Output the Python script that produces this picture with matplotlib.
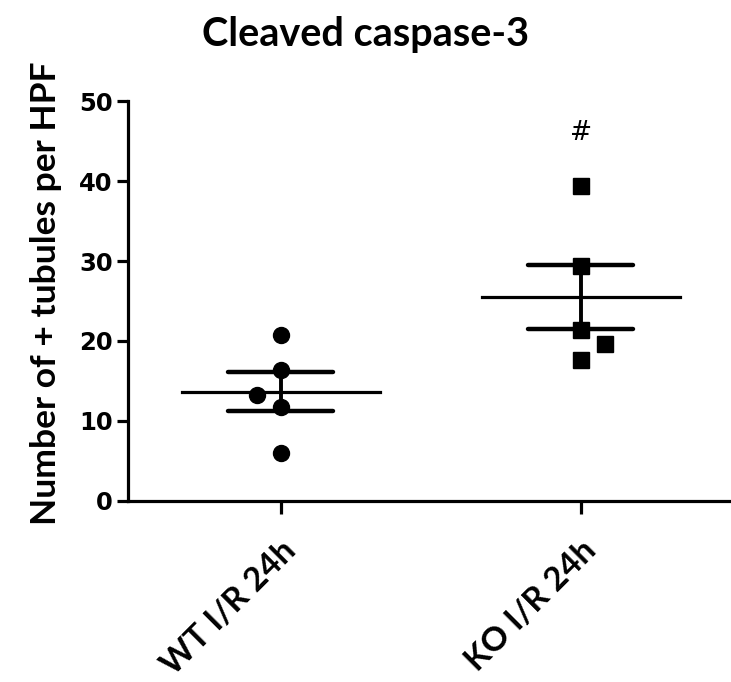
import numpy as np
import matplotlib.pyplot as plt

groups = ["WT I/R 24h", "KO I/R 24h"]
wt = [20.7, 16.4, 13.3, 11.8, 6.0]
ko = [39.4, 29.4, 21.4, 19.6, 17.6]
# small horizontal jitter (in category units)
wt_dx = [0, 0, -0.08, 0, 0]
ko_dx = [0, 0, 0, 0.08, 0]
markers = ["o", "s"]

fig = plt.figure(figsize=(7.31, 6.82), dpi=100)
ax = fig.add_axes([0.1751, 0.2654, 0.8249, 0.5865])

for i, (vals, dx, m) in enumerate(zip([wt, ko], [wt_dx, ko_dx], markers)):
    xpos = i + 1
    v = np.array(vals)
    mean = v.mean()
    sem = v.std(ddof=1) / np.sqrt(len(v))
    ms = 11.5 if m == "o" else 12
    ax.plot(xpos + np.array(dx), v, m, color="black", ms=ms, zorder=3)
    ax.plot([xpos - 0.33, xpos + 0.33], [mean, mean], color="black", lw=2.3)
    ax.plot([xpos - 0.175, xpos + 0.175], [mean + sem] * 2, color="black", lw=3.2,
            solid_capstyle="round")
    ax.plot([xpos - 0.175, xpos + 0.175], [mean - sem] * 2, color="black", lw=3.2,
            solid_capstyle="round")
    ax.plot([xpos, xpos], [mean - sem, mean + sem], color="black", lw=2.8)

ax.text(2, 46, "#", ha="center", va="center", fontsize=19)

ax.set_xlim(0.49, 2.5)
ax.set_ylim(0, 50)
ax.set_yticks([0, 10, 20, 30, 40, 50])
ax.set_xticks([1, 2])
ax.set_xticklabels(groups, rotation=45, ha="right", rotation_mode="anchor",
                   fontsize=24, fontweight="bold", family="Lato")
for lab in ax.get_yticklabels():
    lab.set_fontsize(17.5)
    lab.set_fontweight("bold")
    lab.set_family("DejaVu Sans")

ax.spines["top"].set_visible(False)
ax.spines["right"].set_visible(False)
ax.spines["left"].set_linewidth(2.3)
ax.spines["bottom"].set_linewidth(2.3)
ax.tick_params(axis="y", length=8, width=2.3, pad=3)
ax.tick_params(axis="x", length=9, width=2.3, pad=16)

fig.text(0.063, 0.570, "Number of + tubules per HPF", rotation=90,
         ha="center", va="center", fontsize=25.5, fontweight="bold", family="Lato")
fig.text(0.5, 0.949, "Cleaved caspase-3", ha="center", va="center",
         fontsize=28.5, fontweight="bold", family="Lato")

fig.savefig("out.png", dpi=100)
